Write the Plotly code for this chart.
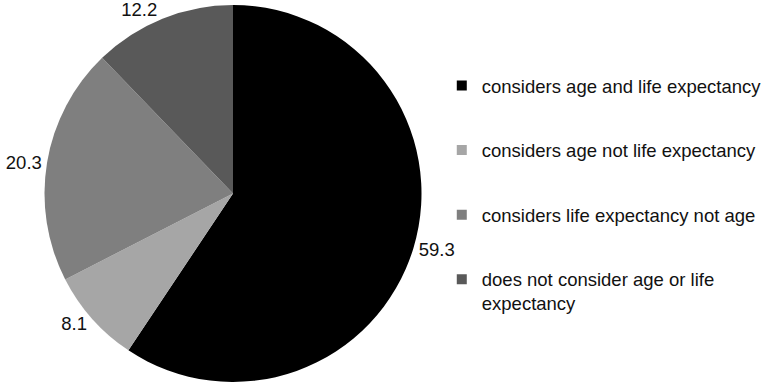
import plotly.graph_objects as go

labels = [
    "considers age and life expectancy",
    "considers age not life expectancy",
    "considers life expectancy not age",
    "does not consider age or life<br>expectancy",
]
values = [59.3, 8.1, 20.3, 12.2]
colors = ["#000000", "#a6a6a6", "#7f7f7f", "#595959"]

W, H = 771, 382
TOP = 5
r = (H - TOP) / 2
cx = 233
FONT = "Liberation Sans, Arial, sans-serif"

fig = go.Figure()
fig.add_trace(go.Pie(
    labels=labels,
    values=values,
    sort=False,
    direction="clockwise",
    rotation=0,
    marker=dict(colors=colors, line=dict(width=0)),
    texttemplate="%{value:.1f}",
    textposition="outside",
    textfont=dict(family=FONT, size=18.5, color="#111111"),
    domain=dict(x=[(cx - r) / W, (cx + r) / W], y=[0, 1]),
    showlegend=False,
    automargin=False,
    hoverinfo="label+value",
))

# legend entries (one per slice, same colours)
for i, (lab, col) in enumerate(zip(labels, colors)):
    fig.add_trace(go.Scatter(
        x=[None], y=[None], mode="markers",
        marker=dict(symbol="square", size=10, color=col),
        name=lab, legendgroup=str(i), showlegend=True,
    ))

fig.update_layout(
    width=W, height=H,
    margin=dict(l=0, r=0, t=TOP, b=0, autoexpand=False),
    paper_bgcolor="white",
    plot_bgcolor="rgba(0,0,0,0)",
    xaxis=dict(visible=False),
    yaxis=dict(visible=False),
    font=dict(family=FONT, size=18.5, color="#111111"),
    legend=dict(
        x=0.573, y=1 - (67 - TOP) / (H - TOP), xanchor="left", yanchor="top",
        valign="top",
        bgcolor="rgba(0,0,0,0)",
        tracegroupgap=37.5,
        itemwidth=30,
    ),
)

fig.write_html("out.html", config={"displayModeBar": False},
               post_script="document.body.style.margin='0px';")
